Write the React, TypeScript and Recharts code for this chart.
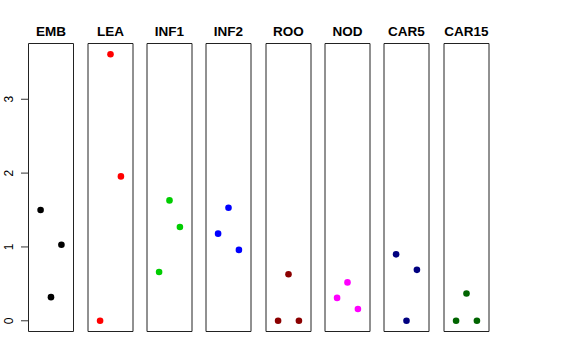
import { ScatterChart, Scatter, XAxis, YAxis, ReferenceArea } from 'recharts'

// Panels and their colours
const categories = ['EMB', 'LEA', 'INF1', 'INF2', 'ROO', 'NOD', 'CAR5', 'CAR15']
const colors = ['#000000', '#FF0000', '#00CD00', '#0000FF', '#8B0000', '#FF00FF', '#000080', '#006400']

// Three replicate positions inside each panel
const replicates = [1, 2, 3]

// Values per panel, one per replicate
const EMB = [1.5, 0.32, 1.03]
const LEA = [0, 3.61, 1.955]
const INF1 = [0.66, 1.63, 1.27]
const INF2 = [1.18, 1.53, 0.96]
const ROO = [0, 0.63, 0]
const NOD = [0.31, 0.52, 0.16]
const CAR5 = [0.9, 0, 0.69]
const CAR15 = [0, 0.37, 0]
const seriesValues = [EMB, LEA, INF1, INF2, ROO, NOD, CAR5, CAR15]

const yTicks = [0, 1, 2, 3]

// Axis ranges (R style, 4% padding)
const X_DOMAIN: [number, number] = [-0.16, 4.16]
const Y_DOMAIN: [number, number] = [-0.145, 3.755]

const PLOT_TOP = 43.5
const PLOT_H = 288
const PANEL_W = 45
const STEP = 59.3
const FIRST_LEFT = 28.5
const HEIGHT = 360

const FONT = '"Liberation Sans", Arial, Helvetica, sans-serif'

// Y tick labels rotated like base R
function RotatedTick({ x, y, payload }: { x?: number; y?: number; payload?: { value: number } }) {
  if (x == null || y == null || !payload) return null
  const tx = 13
  return (
    <g>
      <line x1={21} y1={y} x2={28.5} y2={y} stroke="#333" strokeWidth={1} />
      <text
        x={tx}
        y={y}
        transform={`rotate(-90, ${tx}, ${y})`}
        textAnchor="middle"
        fontSize={12}
        fontFamily={FONT}
        fill="#000"
      >
        {payload.value}
      </text>
    </g>
  )
}

function Panel({ index }: { index: number }) {
  const first = index === 0
  const marginLeft = first ? 0 : 2
  const plotLeft = FIRST_LEFT + STEP * index
  const color = colors[index]
  const data = replicates.map((r, i) => ({ x: r, y: seriesValues[index][i] }))

  return (
    <div style={{ position: 'absolute', left: plotLeft - marginLeft - (first ? FIRST_LEFT : 0), top: 0 }}>
      <ScatterChart
        width={(first ? FIRST_LEFT : marginLeft) + PANEL_W + 2}
        height={HEIGHT}
        margin={{ top: PLOT_TOP, right: 2, bottom: HEIGHT - PLOT_TOP - PLOT_H, left: marginLeft }}
      >
        <XAxis type="number" dataKey="x" domain={X_DOMAIN} allowDataOverflow hide />
        {first ? (
          <YAxis
            type="number"
            dataKey="y"
            domain={Y_DOMAIN}
            allowDataOverflow
            ticks={yTicks}
            width={FIRST_LEFT}
            axisLine={false}
            tickLine={false}
            tick={<RotatedTick />}
            interval={0}
          />
        ) : (
          <YAxis type="number" dataKey="y" domain={Y_DOMAIN} allowDataOverflow hide />
        )}
        <ReferenceArea
          x1={X_DOMAIN[0]}
          x2={X_DOMAIN[1]}
          y1={Y_DOMAIN[0]}
          y2={Y_DOMAIN[1]}
          fill="none"
          fillOpacity={0}
          stroke="#222"
          strokeWidth={1}
          ifOverflow="visible"
          label={{
            value: categories[index],
            position: 'top',
            offset: 8,
            fill: '#000',
            fontSize: 13.5,
            fontWeight: 'bold',
            fontFamily: FONT,
          }}
        />
        <Scatter
          data={data}
          isAnimationActive={false}
          shape={(p: { cx?: number; cy?: number }) => (
            <circle cx={p.cx} cy={p.cy} r={3.3} fill={color} />
          )}
        />
      </ScatterChart>
    </div>
  )
}

export default function App() {
  return (
    <div
      style={{
        position: 'absolute',
        left: 0,
        top: 0,
        width: 576,
        height: HEIGHT,
        background: '#fff',
        fontFamily: FONT,
      }}
    >
      {categories.map((c, i) => (
        <Panel key={c} index={i} />
      ))}
    </div>
  )
}
